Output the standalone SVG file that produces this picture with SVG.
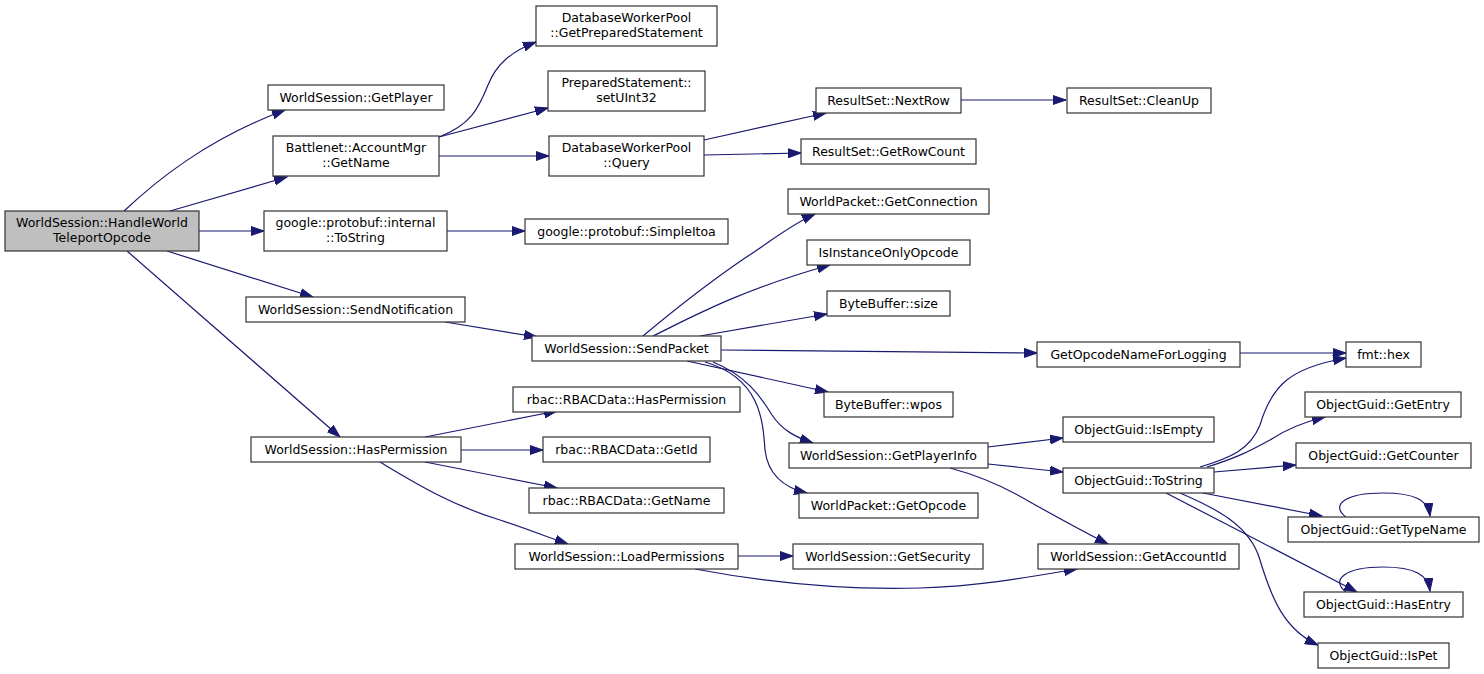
<svg xmlns="http://www.w3.org/2000/svg" width="1484" height="674" viewBox="0 0 1484 674">
<style>
.n rect{fill:#fff;stroke:#333;stroke-width:1.2}
.n.root rect{fill:#bfbfbf}
.n text{font-family:"DejaVu Sans","Liberation Sans",sans-serif;font-size:12.5px;fill:#000;text-anchor:middle}
.e path{fill:none;stroke:#191970;stroke-width:1.2;marker-end:url(#ah)}
</style>
<defs>
<marker id="ah" markerUnits="userSpaceOnUse" markerWidth="14" markerHeight="10" refX="13" refY="5" orient="auto" viewBox="0 0 14 10">
<path d="M0,0.5 L13,5 L0,9.5 z" fill="#191970" stroke="#191970" stroke-width="1"/>
</marker>
</defs>
<rect width="1484" height="674" fill="#fff"/>
<g id="edges" class="e">
<path d="M124,211 C155,182 205,140 285,110"/>
<path d="M170,211 L287,177"/>
<path d="M199,231 L264,231"/>
<path d="M167,251 L313,297"/>
<path d="M127,251 L340,437"/>
<path d="M439,137 C470,125 478,110 488,85 C496,65 510,52 536,42"/>
<path d="M439,137 L548,108"/>
<path d="M439,156 L549,156"/>
<path d="M704,140 L826,113"/>
<path d="M704,155 L801,153"/>
<path d="M961,100 L1066,100"/>
<path d="M447,231 L525,231"/>
<path d="M445,322 L537,337"/>
<path d="M643,336 C680,305 720,275 745,258 C770,242 790,225 815,214"/>
<path d="M653,336 C690,318 740,290 830,265"/>
<path d="M700,336 L827,314"/>
<path d="M721,350 L1037,353"/>
<path d="M687,361 L828,392"/>
<path d="M713,362 C745,375 760,395 772,415 C782,430 795,437 813,443"/>
<path d="M705,362 C760,378 763,420 765,450 C768,475 785,488 807,493"/>
<path d="M1240,353 L1346,353"/>
<path d="M988,447 L1063,438"/>
<path d="M988,464 L1063,472"/>
<path d="M950,468 C980,476 1010,490 1030,502 C1055,516 1080,530 1108,544"/>
<path d="M1200,467 C1230,458 1250,450 1260,425 C1272,385 1290,368 1346,358"/>
<path d="M1207,467 C1240,457 1255,448 1270,440 C1285,430 1300,423 1325,417"/>
<path d="M1214,472 L1296,465"/>
<path d="M1203,493 L1322,516"/>
<path d="M1166,493 C1230,526 1300,562 1357,592"/>
<path d="M1180,493 C1215,508 1250,525 1260,560 C1272,600 1285,630 1318,645"/>
<path d="M1346,517 C1330,505 1345,493 1383,493 C1415,493 1428,500 1430,516"/>
<path d="M1346,592 C1330,580 1345,567 1383,567 C1415,567 1428,575 1430,591"/>
<path d="M425,437 L557,411"/>
<path d="M461,450 L543,450"/>
<path d="M425,462 L557,488"/>
<path d="M380,462 C410,480 450,505 500,520 C530,530 550,538 568,544"/>
<path d="M738,556 L793,556"/>
<path d="M695,569 C780,585 850,590 920,588 C980,586 1030,577 1077,569"/>
</g>
<g id="n_root" class="n root"><rect x="5" y="211" width="194" height="40"/><text x="102" y="226.5">WorldSession::HandleWorld</text><text x="102" y="241.5">TeleportOpcode</text></g>
<g id="n_getplayer" class="n"><rect x="268" y="85" width="176" height="25"/><text x="356" y="102">WorldSession::GetPlayer</text></g>
<g id="n_accountmgr" class="n"><rect x="273" y="136" width="166" height="40"/><text x="356" y="151.5">Battlenet::AccountMgr</text><text x="356" y="166.5">::GetName</text></g>
<g id="n_pbtostring" class="n"><rect x="264" y="211" width="183" height="40"/><text x="355.5" y="226.5">google::protobuf::internal</text><text x="355.5" y="241.5">::ToString</text></g>
<g id="n_sendnotif" class="n"><rect x="246" y="297" width="219" height="25"/><text x="355.5" y="314">WorldSession::SendNotification</text></g>
<g id="n_hasperm" class="n"><rect x="251" y="437" width="210" height="25"/><text x="356" y="454">WorldSession::HasPermission</text></g>
<g id="n_getprep" class="n"><rect x="536" y="6" width="181" height="40"/><text x="626.5" y="21.5">DatabaseWorkerPool</text><text x="626.5" y="36.5">::GetPreparedStatement</text></g>
<g id="n_setuint" class="n"><rect x="548" y="71" width="157" height="40"/><text x="626.5" y="86.5">PreparedStatement::</text><text x="626.5" y="101.5">setUInt32</text></g>
<g id="n_query" class="n"><rect x="549" y="136" width="155" height="40"/><text x="626.5" y="151.5">DatabaseWorkerPool</text><text x="626.5" y="166.5">::Query</text></g>
<g id="n_simpleitoa" class="n"><rect x="525" y="219" width="203" height="25"/><text x="626.5" y="236">google::protobuf::SimpleItoa</text></g>
<g id="n_nextrow" class="n"><rect x="816" y="88" width="145" height="25"/><text x="888.5" y="105">ResultSet::NextRow</text></g>
<g id="n_rowcount" class="n"><rect x="801" y="139" width="175" height="25"/><text x="888.5" y="156">ResultSet::GetRowCount</text></g>
<g id="n_cleanup" class="n"><rect x="1067" y="88" width="144" height="25"/><text x="1139" y="105">ResultSet::CleanUp</text></g>
<g id="n_getconn" class="n"><rect x="788" y="189" width="201" height="25"/><text x="888.5" y="206">WorldPacket::GetConnection</text></g>
<g id="n_isinst" class="n"><rect x="807" y="240" width="163" height="25"/><text x="888.5" y="257">IsInstanceOnlyOpcode</text></g>
<g id="n_bbsize" class="n"><rect x="827" y="291" width="123" height="25"/><text x="888.5" y="308">ByteBuffer::size</text></g>
<g id="n_sendpacket" class="n"><rect x="532" y="336" width="189" height="25"/><text x="626.5" y="353">WorldSession::SendPacket</text></g>
<g id="n_wpos" class="n"><rect x="824" y="392" width="129" height="25"/><text x="888.5" y="409">ByteBuffer::wpos</text></g>
<g id="n_playerinfo" class="n"><rect x="789" y="443" width="199" height="25"/><text x="888.5" y="460">WorldSession::GetPlayerInfo</text></g>
<g id="n_getopcode" class="n"><rect x="799" y="493" width="179" height="25"/><text x="888.5" y="510">WorldPacket::GetOpcode</text></g>
<g id="n_rbachas" class="n"><rect x="513" y="387" width="227" height="25"/><text x="626.5" y="404">rbac::RBACData::HasPermission</text></g>
<g id="n_rbacid" class="n"><rect x="543" y="437" width="167" height="25"/><text x="626.5" y="454">rbac::RBACData::GetId</text></g>
<g id="n_rbacname" class="n"><rect x="529" y="488" width="195" height="25"/><text x="626.5" y="505">rbac::RBACData::GetName</text></g>
<g id="n_loadperm" class="n"><rect x="515" y="544" width="223" height="25"/><text x="626.5" y="561">WorldSession::LoadPermissions</text></g>
<g id="n_getsec" class="n"><rect x="793" y="544" width="190" height="25"/><text x="888" y="561">WorldSession::GetSecurity</text></g>
<g id="n_opname" class="n"><rect x="1037" y="342" width="203" height="25"/><text x="1138.5" y="359">GetOpcodeNameForLogging</text></g>
<g id="n_hex" class="n"><rect x="1346" y="342" width="75" height="25"/><text x="1383.5" y="359">fmt::hex</text></g>
<g id="n_isempty" class="n"><rect x="1063" y="417" width="151" height="25"/><text x="1138.5" y="434">ObjectGuid::IsEmpty</text></g>
<g id="n_ogtostring" class="n"><rect x="1063" y="468" width="151" height="25"/><text x="1138.5" y="485">ObjectGuid::ToString</text></g>
<g id="n_accountid" class="n"><rect x="1038" y="544" width="201" height="25"/><text x="1138.5" y="561">WorldSession::GetAccountId</text></g>
<g id="n_getentry" class="n"><rect x="1305" y="392" width="156" height="25"/><text x="1383" y="409">ObjectGuid::GetEntry</text></g>
<g id="n_getcounter" class="n"><rect x="1296" y="443" width="175" height="25"/><text x="1383.5" y="460">ObjectGuid::GetCounter</text></g>
<g id="n_typename" class="n"><rect x="1288" y="517" width="191" height="25"/><text x="1383.5" y="534">ObjectGuid::GetTypeName</text></g>
<g id="n_hasentry" class="n"><rect x="1304" y="592" width="159" height="25"/><text x="1383.5" y="609">ObjectGuid::HasEntry</text></g>
<g id="n_ispet" class="n"><rect x="1318" y="643" width="131" height="25"/><text x="1383.5" y="660">ObjectGuid::IsPet</text></g>
</svg>
